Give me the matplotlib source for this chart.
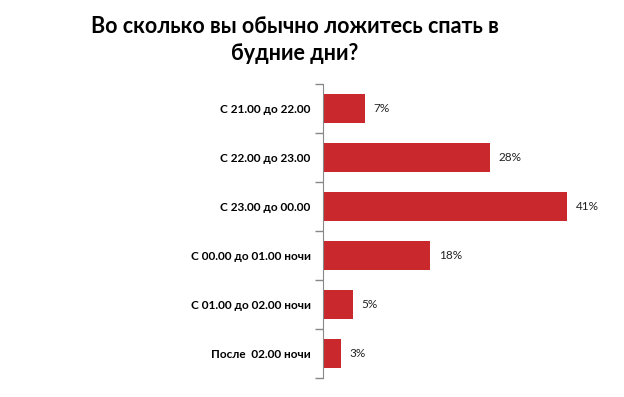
import matplotlib
matplotlib.use("Agg")
import matplotlib.pyplot as plt
import numpy as np

categories = ["С 21.00 до 22.00", "С 22.00 до 23.00", "С 23.00 до 00.00",
              "С 00.00 до 01.00 ночи", "С 01.00 до 02.00 ночи", "После  02.00 ночи"]
values = [7, 28, 41, 18, 5, 3]
value_labels = ["7%", "28%", "41%", "18%", "5%", "3%"]
title = "Во сколько вы обычно ложитесь спать в\nбудние дни?"

plt.rcParams['font.family'] = ['Lato', 'DejaVu Sans']

fig = plt.figure(figsize=(6.24, 3.97), dpi=100)
W, H = 624, 397
ax_w = 280
ax = fig.add_axes([323 / W, (H - 378) / H, ax_w / W, 294 / H])

n = len(categories)
y = np.arange(n)
ax.barh(y, values, height=0.58, color="#C9282D")
ax.set_ylim(n - 0.5, -0.5)
ax.set_xlim(0, ax_w / 5.95)

ax.set_yticks(y)
ax.set_yticklabels(categories, fontsize=8.5, fontweight="bold")
ax.tick_params(axis="y", which="major", length=0, pad=9)
ax.set_yticks(np.arange(n + 1) - 0.5, minor=True)
ax.tick_params(axis="y", which="minor", length=6, color="#888888", width=1)
ax.set_xticks([])

for s in ["top", "right", "bottom"]:
    ax.spines[s].set_visible(False)
ax.spines["left"].set_color("#888888")

for yi, v, lab in zip(y, values, value_labels):
    ax.text(v + 1.5, yi, lab, va="center", ha="left", fontsize=8.5, color="#222222")

fig.text(295 / W, 1 - 40 / H, title, ha="center", va="center", fontsize=15.5,
         fontweight="bold", linespacing=1.35)

fig.savefig("out.png", dpi=100)
